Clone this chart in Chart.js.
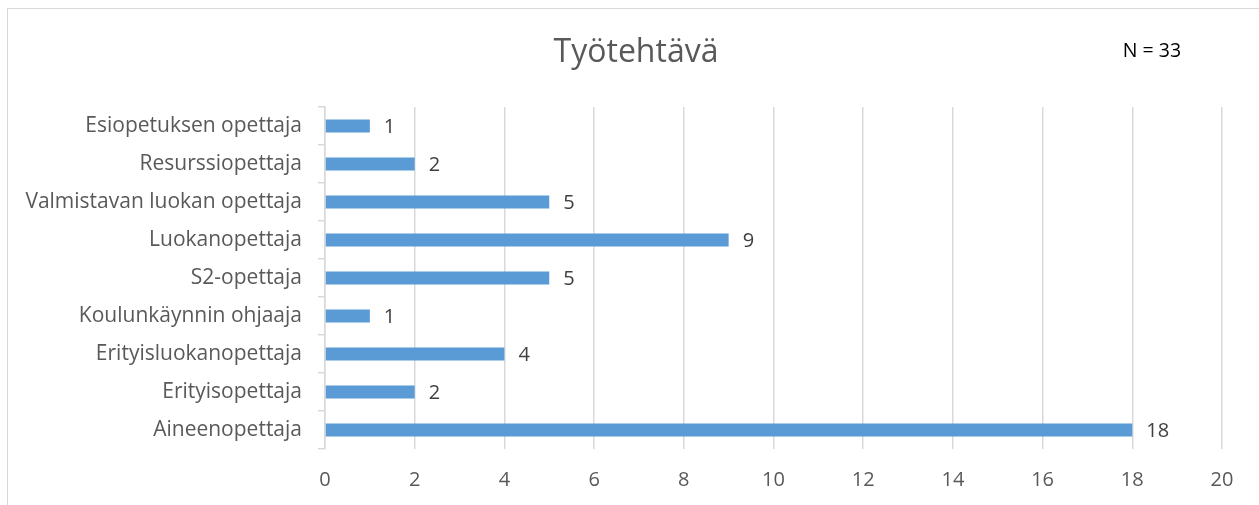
<!DOCTYPE html>
<html>
<head>
<meta charset="utf-8">
<script src="https://cdn.jsdelivr.net/npm/chart.js@4"></script>
<style>
  body { margin: 0; background: #fff; }
  #frame { position: absolute; left: 7px; top: 8px; width: 1260px; height: 510px; border: 1px solid #d9d9d9; }
  #wrap { position: absolute; left: 0; top: 0; width: 1259px; height: 505px; }
</style>
</head>
<body>
<div id="frame"></div>
<div id="wrap"><canvas id="barChart" width="1259" height="505"></canvas></div>
<script>
const categories = [
  "Esiopetuksen opettaja",
  "Resurssiopettaja",
  "Valmistavan luokan opettaja",
  "Luokanopettaja",
  "S2-opettaja",
  "Koulunkäynnin ohjaaja",
  "Erityisluokanopettaja",
  "Erityisopettaja",
  "Aineenopettaja"
];
const counts = [1, 2, 5, 9, 5, 1, 4, 2, 18];
const xTicks = [0, 2, 4, 6, 8, 10, 12, 14, 16, 18, 20];
const chartTitle = "Työtehtävä";
const nText = "N = 33";

const fontFamily = "'Open Sans', sans-serif";

// otsikko, arvot palkkien perään + N-teksti
const labelPlugin = {
  id: 'valueLabels',
  afterDatasetsDraw(chart) {
    const ctx = chart.ctx;
    const meta = chart.getDatasetMeta(0);
    ctx.save();
    ctx.font = "20px " + fontFamily;
    ctx.fillStyle = "#404040";
    ctx.textBaseline = "middle";
    ctx.textAlign = "left";
    meta.data.forEach((bar, i) => {
      ctx.fillText(String(counts[i]), bar.x + 14, bar.y + 1);
    });
    ctx.font = "19.5px " + fontFamily;
    ctx.fillStyle = "#000";
    ctx.textAlign = "center";
    ctx.fillText(nText, 1152, 51);
    ctx.font = "32px " + fontFamily;
    ctx.fillStyle = "#595959";
    ctx.fillText(chartTitle, 636, 53);
    ctx.restore();
  }
};

let bChart;

function drawingChart() {
  let context = document.getElementById("barChart").getContext('2d');
  bChart = new Chart(context, {
    type: 'bar',
    data: {
      labels: categories,
      datasets: [{
        data: counts,
        backgroundColor: "#5B9BD5",
        barPercentage: 1,
        categoryPercentage: 0.34
      }]
    },
    options: {
      indexAxis: 'y',
      responsive: false,
      animation: false,
      layout: { padding: { left: 0, right: 37, top: 107, bottom: 0 } },
      plugins: {
        legend: { display: false },
        tooltip: { enabled: false },
        title: { display: false }
      },
      scales: {
        x: {
          min: 0,
          max: 20,
          afterBuildTicks: (scale) => { scale.ticks = xTicks.map(v => ({ value: v })); },
          afterFit: (scale) => { scale.height = 56; },
          grid: { color: "#d9d9d9", lineWidth: 1.5, drawTicks: false },
          border: { display: false },
          ticks: { color: "#595959", padding: 19, font: { family: fontFamily, size: 20 } }
        },
        y: {
          afterFit: (scale) => { scale.width = 325; },
          grid: { display: true, drawOnChartArea: false, color: "#d9d9d9", tickLength: 7, lineWidth: 1.5 },
          border: { color: "#d9d9d9", width: 1.5 },
          ticks: { color: "#595959", padding: 16, font: { family: fontFamily, size: 21 } }
        }
      }
    },
    plugins: [labelPlugin]
  });
}

drawingChart();
</script>
</body>
</html>
